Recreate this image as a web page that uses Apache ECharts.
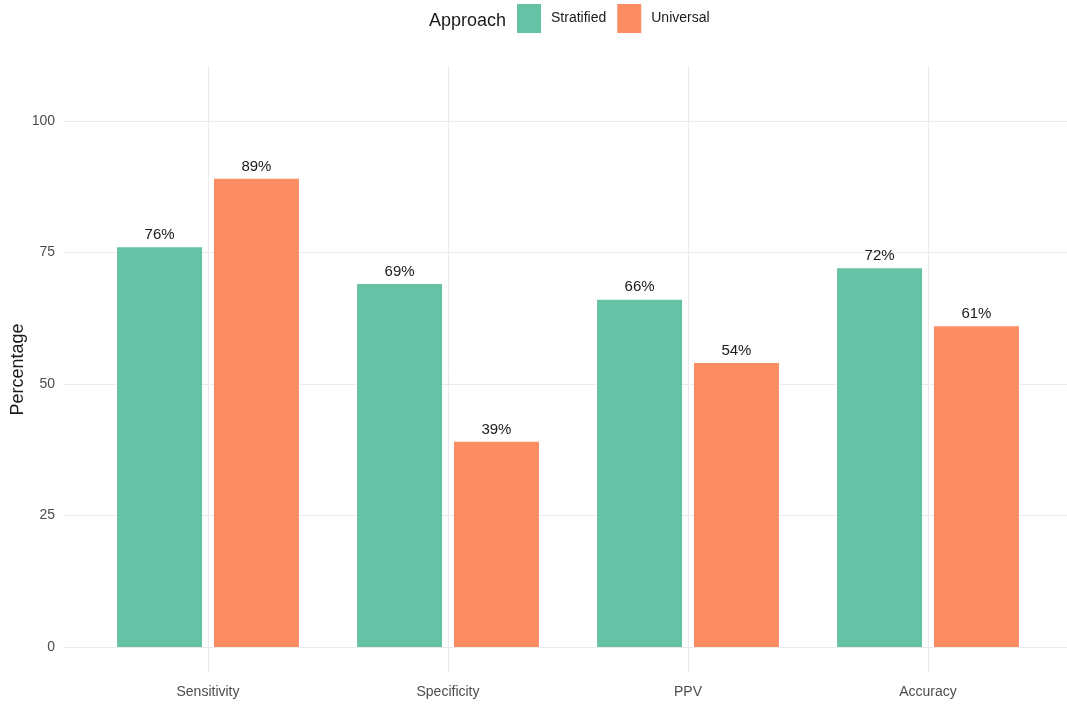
<!DOCTYPE html>
<html>
<head>
<meta charset="utf-8">
<script src="https://cdn.jsdelivr.net/npm/echarts@6/dist/echarts.min.js"></script>
<style>
  html, body { margin: 0; padding: 0; background: #ffffff; }
  #chart { width: 1067px; height: 706px; }
</style>
</head>
<body>
<div id="chart"></div>
<script>
// Diagnostic performance of the two screening approaches
const categories = ['Sensitivity', 'Specificity', 'PPV', 'Accuracy'];
const stratified = [76, 69, 66, 72];
const universal = [89, 39, 54, 61];
const seriesNames = ['Stratified', 'Universal'];
const yTicks = [0, 25, 50, 75, 100];

const FONT = '"Liberation Sans", Arial, Helvetica, sans-serif';
const GRID_COLOR = '#ebebeb';
const AXIS_TEXT = '#4d4d4d';

const chart = echarts.init(document.getElementById('chart'), null, { renderer: 'canvas' });

const barLabel = {
  show: true,
  position: 'top',
  distance: 5,
  formatter: p => p.value + '%',
  color: '#1a1a1a',
  fontSize: 15,
  fontFamily: FONT
};

chart.setOption({
  backgroundColor: '#ffffff',
  animation: false,
  textStyle: { fontFamily: FONT },
  title: {
    text: 'Approach',
    left: 429,
    top: 12,
    padding: 0,
    textStyle: { fontSize: 18, fontWeight: 'normal', color: '#1a1a1a', fontFamily: FONT }
  },
  legend: {
    data: seriesNames,
    left: 517,
    top: 4,
    padding: 0,
    icon: 'rect',
    itemWidth: 24,
    itemHeight: 29,
    itemGap: 11,
    textStyle: { fontSize: 14, color: '#1a1a1a', fontFamily: FONT, padding: [4, 0, 0, 5] }
  },
  grid: [
    // horizontal grid lines and y tick labels
    { left: 63, right: 0, top: 121, bottom: 59, outerBoundsMode: 'none' },
    // vertical grid lines through the category centres, full panel height
    { left: 208, right: 139, top: 66, bottom: 33, outerBoundsMode: 'none' },
    // bars
    { left: 88, right: 19, top: 121, bottom: 59, outerBoundsMode: 'none' }
  ],
  xAxis: [
    { gridIndex: 0, type: 'value', min: 0, max: 1, show: false },
    {
      gridIndex: 1, type: 'category', data: categories, boundaryGap: false,
      axisLine: { show: false }, axisTick: { show: false }, axisLabel: { show: false },
      splitLine: { show: true, interval: 0, lineStyle: { color: GRID_COLOR, width: 1 } }
    },
    {
      gridIndex: 2, type: 'category', data: categories, boundaryGap: true,
      axisLine: { show: false }, axisTick: { show: false },
      splitLine: { show: false },
      axisLabel: { color: AXIS_TEXT, fontSize: 14, margin: 38, fontFamily: FONT, interval: 0 }
    }
  ],
  yAxis: [
    {
      gridIndex: 0, type: 'value', min: yTicks[0], max: yTicks[yTicks.length - 1], interval: 25,
      axisLine: { show: false }, axisTick: { show: false },
      axisLabel: { color: AXIS_TEXT, fontSize: 14, margin: 8, fontFamily: FONT },
      splitLine: { show: true, lineStyle: { color: GRID_COLOR, width: 1 } }
    },
    {
      gridIndex: 1, type: 'value', min: 0, max: 1,
      axisLine: { show: false }, axisTick: { show: false }, axisLabel: { show: false },
      splitLine: { show: false },
      name: 'Percentage', nameLocation: 'middle', nameGap: 181, nameRotate: 90,
      nameTextStyle: { fontSize: 18, color: '#1a1a1a', fontFamily: FONT }
    },
    {
      gridIndex: 2, type: 'value', min: 0, max: 100, show: false
    }
  ],
  series: [
    {
      name: seriesNames[0], type: 'bar', xAxisIndex: 2, yAxisIndex: 2,
      data: stratified, barWidth: 85, barGap: '14%',
      itemStyle: { color: '#66c2a5' }, label: barLabel
    },
    {
      name: seriesNames[1], type: 'bar', xAxisIndex: 2, yAxisIndex: 2,
      data: universal, barWidth: 85, barGap: '14%',
      itemStyle: { color: '#fc8d62' }, label: barLabel
    }
  ]
});
</script>
</body>
</html>
